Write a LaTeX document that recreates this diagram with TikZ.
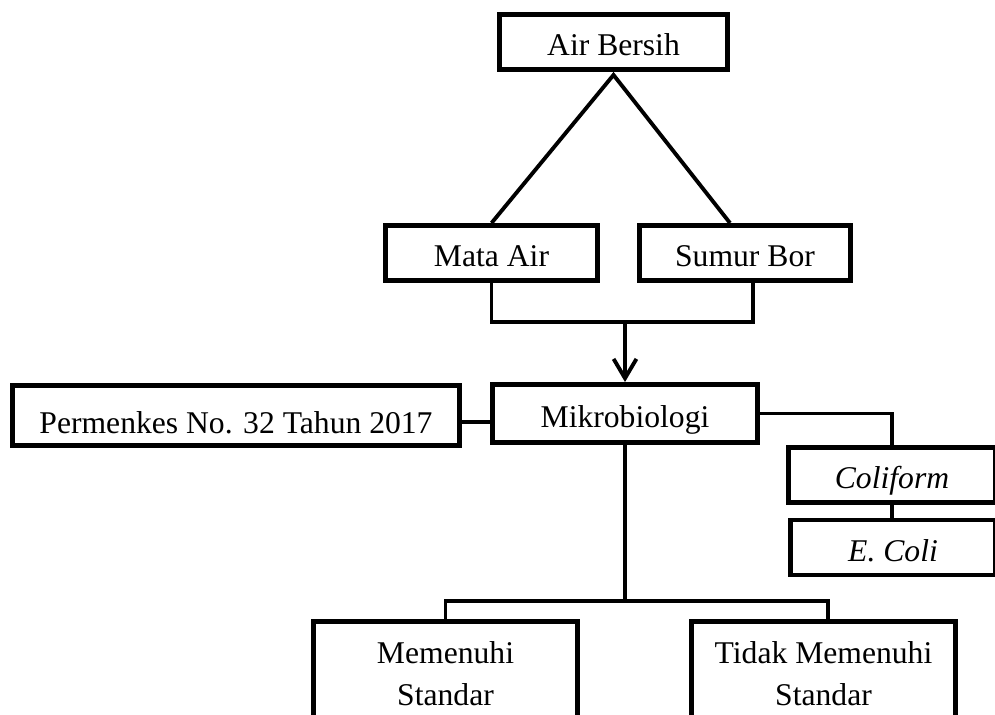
\documentclass[tikz,border=0pt]{standalone}
\usepackage{fontspec}
\setmainfont{Liberation Serif}
\usetikzlibrary{positioning,calc,arrows.meta}

\begin{document}
\begin{tikzpicture}[->, >={Straight Barb[length=11pt,width=13pt]}, line width=2.2pt,
  font=\fontsize{18}{24}\selectfont]
\tikzstyle{block} = [rectangle, draw, fill=white, line width=2.8pt,
text centered, inner sep=0pt, minimum height=1.1cm]
\tikzstyle{onerow} = [text height=0.58cm, text depth=0.04cm]
\tikzstyle{line} = [draw, -]
\useasboundingbox (0,0) rectangle (19.9,-14.3);
\clip (0,0) rectangle (19.9,-14.3);
\node[block,onerow,minimum width=4.56cm] at (12.27,-0.84) (air){Air Bersih};
\node[block,onerow,minimum width=4.24cm] at (9.83,-5.06) (mata){Mata Air};
\node[block,onerow,minimum width=4.22cm] at (14.9,-5.06) (sumur){Sumur Bor};
\node[block,onerow,minimum width=5.3cm,minimum height=1.16cm] at (12.5,-8.27) (mikro){Mikrobiologi};
\node[block,text height=0.7cm,text depth=0cm,minimum width=8.94cm,minimum height=1.2cm] at (4.72,-8.31) (perm){Permenkes No. 32 Tahun 2017};
\node[block,onerow,minimum width=4.14cm] at (17.84,-9.5) (coli){\textit{Coliform}};
\node[block,onerow,minimum width=4.1cm] at (17.86,-10.95) (ecoli){\textit{E. Coli}};
\node[block,align=center,minimum width=5.28cm,minimum height=2.1cm] at (8.91,-13.48) (memenuhi){Memenuhi\\Standar};
\node[block,align=center,minimum width=5.28cm,minimum height=2.1cm] at (16.47,-13.48) (tidak){Tidak Memenuhi\\Standar};
\coordinate (apex) at ([yshift=-0.06cm]air.south);
\coordinate (join) at (12.5,-6.44);
\coordinate (split) at (12.5,-12.02);
%% lines
\draw[line] (mata.north) -- (apex) -- ([xshift=-0.3cm]sumur.north);
\draw[line] (mata.south) |- (join) -| ([xshift=0.16cm]sumur.south);
\draw (join) -- (mikro.north);
\draw[line] ([yshift=-0.13cm]perm.east) -- ([yshift=-0.13cm]perm.east -| mikro.west);
\draw[line] (mikro.east) -| (coli.north);
\draw[line] (coli.south) -- (coli.south |- ecoli.north);
\draw[line] (mikro.south) -- (split);
\draw[line] (memenuhi.north) |- (split) -| ([xshift=0.09cm]tidak.north);
\end{tikzpicture}
\end{document}
